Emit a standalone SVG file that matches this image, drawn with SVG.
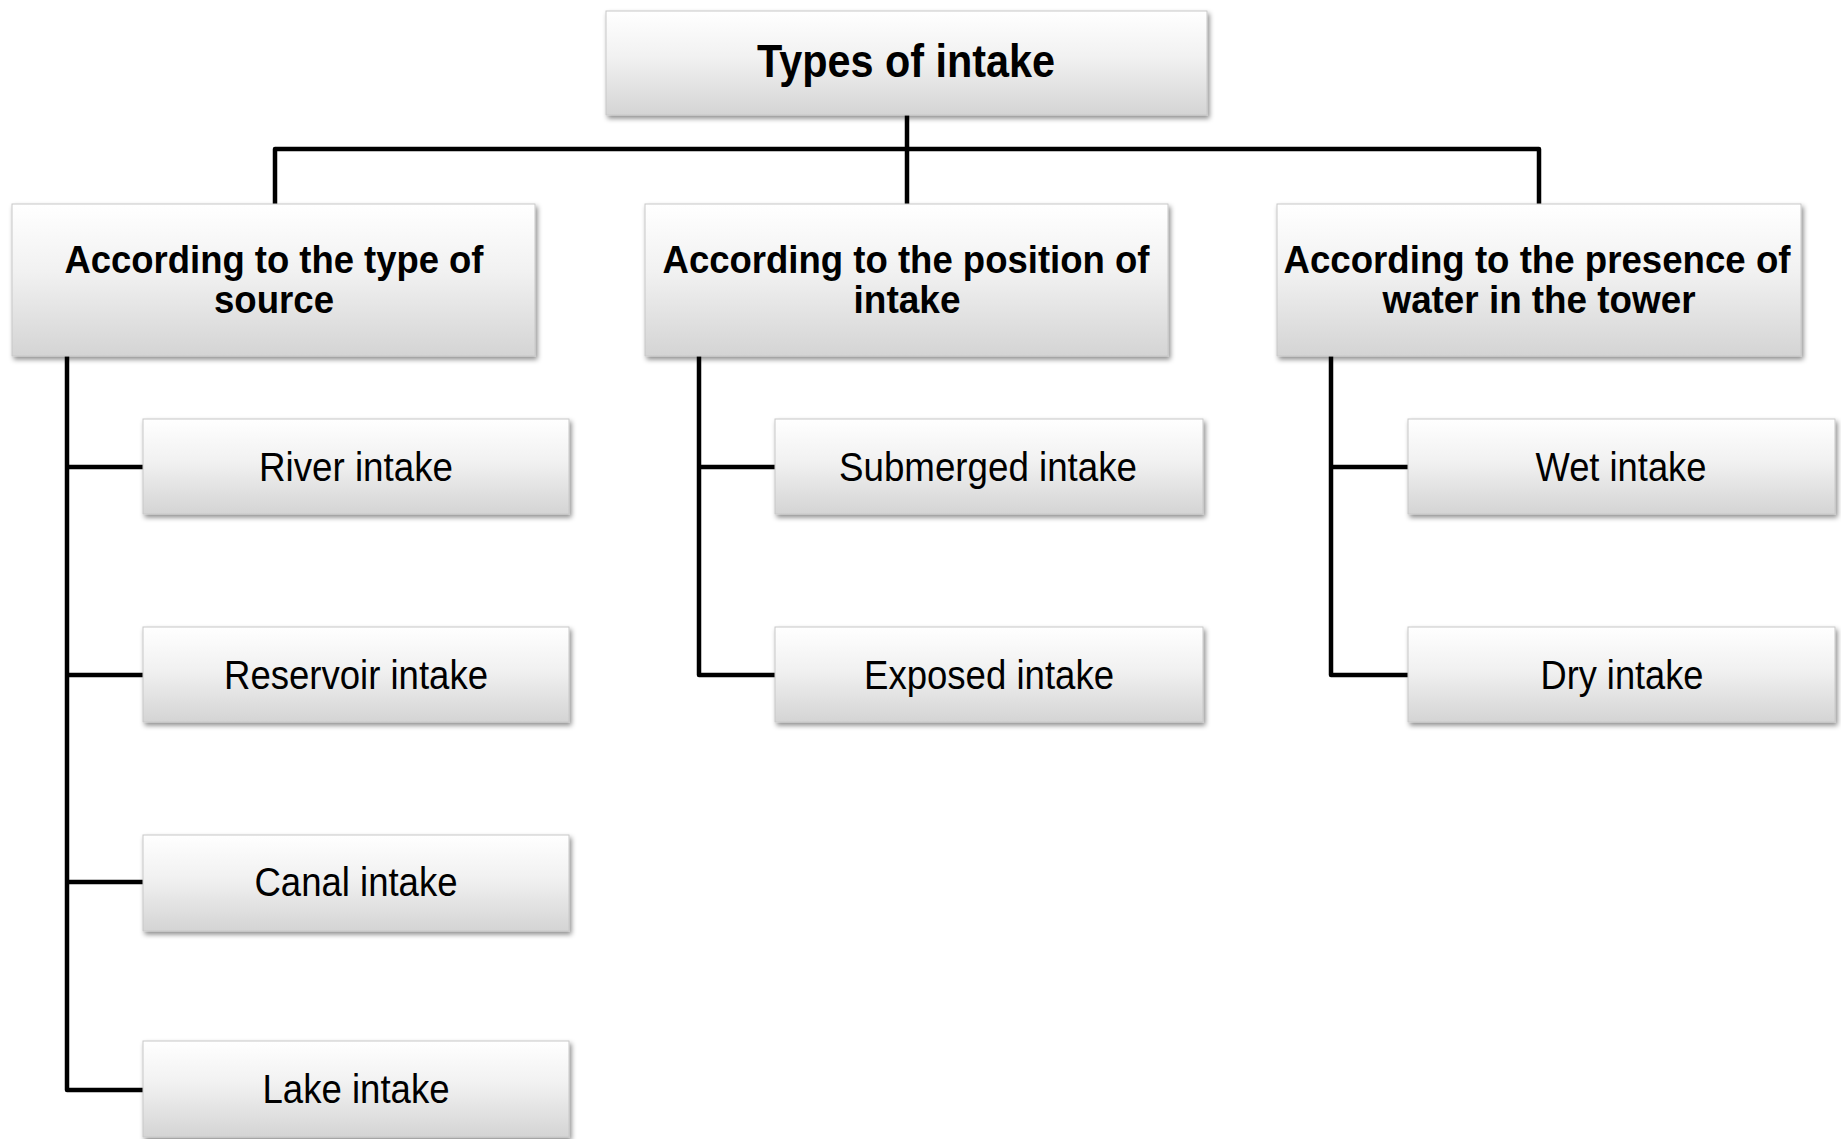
<svg xmlns="http://www.w3.org/2000/svg" width="1841" height="1139" viewBox="0 0 1841 1139">
<defs>
<linearGradient id="g" x1="0" y1="0" x2="0" y2="1">
<stop offset="0" stop-color="#ffffff"/>
<stop offset="0.45" stop-color="#f1f1f1"/>
<stop offset="1" stop-color="#d4d4d4"/>
</linearGradient>
<filter id="sh" x="-5%" y="-10%" width="112%" height="130%">
<feDropShadow dx="2" dy="3" stdDeviation="2.5" flood-color="#000" flood-opacity="0.45"/>
</filter>
</defs>
<style>
.box{fill:url(#g);stroke:#c8c8c8;stroke-width:1;filter:url(#sh)}
.h{font-family:"Liberation Sans",Arial,sans-serif;font-weight:bold;fill:#000;text-anchor:middle}
.t{font-family:"Liberation Sans",Arial,sans-serif;fill:#000;text-anchor:middle}
.c{fill:none;stroke:#000;stroke-width:4.5;stroke-linejoin:round}
</style>
<g id="connectors">
<path class="c" d="M907,115 V204 M275,204 V149 H1539 V204"/>
<path class="c" d="M67,356 V1090 H143 M67,467 H143 M67,675 H143 M67,882 H143"/>
<path class="c" d="M699,356 V675 H775 M699,467 H775"/>
<path class="c" d="M1331,356 V675 H1408 M1331,467 H1408"/>
</g>
<g id="n-root"><rect class="box" x="606" y="11" width="601" height="104"/><text class="h" x="906" y="77" font-size="46" textLength="298" lengthAdjust="spacingAndGlyphs">Types of intake</text></g>
<g id="n-source"><rect class="box" x="12" y="204" width="523" height="152"/><text class="h" x="274" y="273" font-size="38" textLength="419" lengthAdjust="spacingAndGlyphs">According to the type of</text><text class="h" x="274" y="313" font-size="38" textLength="120" lengthAdjust="spacingAndGlyphs">source</text></g>
<g id="n-position"><rect class="box" x="645" y="204" width="523" height="152"/><text class="h" x="906" y="273" font-size="38" textLength="487" lengthAdjust="spacingAndGlyphs">According to the position of</text><text class="h" x="907" y="313" font-size="38" textLength="107" lengthAdjust="spacingAndGlyphs">intake</text></g>
<g id="n-presence"><rect class="box" x="1277" y="204" width="524" height="152"/><text class="h" x="1537" y="273" font-size="38" textLength="507" lengthAdjust="spacingAndGlyphs">According to the presence of</text><text class="h" x="1539" y="313" font-size="38" textLength="313" lengthAdjust="spacingAndGlyphs">water in the tower</text></g>
<g id="n-river"><rect class="box" x="143" y="419" width="426" height="95"/><text class="t" x="356" y="481" font-size="40" textLength="194" lengthAdjust="spacingAndGlyphs">River intake</text></g>
<g id="n-reservoir"><rect class="box" x="143" y="627" width="426" height="95"/><text class="t" x="356" y="689" font-size="40" textLength="264" lengthAdjust="spacingAndGlyphs">Reservoir intake</text></g>
<g id="n-canal"><rect class="box" x="143" y="835" width="426" height="96"/><text class="t" x="356" y="896" font-size="40" textLength="203" lengthAdjust="spacingAndGlyphs">Canal intake</text></g>
<g id="n-lake"><rect class="box" x="143" y="1041" width="426" height="96"/><text class="t" x="356" y="1103" font-size="40" textLength="187" lengthAdjust="spacingAndGlyphs">Lake intake</text></g>
<g id="n-submerged"><rect class="box" x="775" y="419" width="428" height="95"/><text class="t" x="988" y="481" font-size="40" textLength="298" lengthAdjust="spacingAndGlyphs">Submerged intake</text></g>
<g id="n-exposed"><rect class="box" x="775" y="627" width="428" height="95"/><text class="t" x="989" y="689" font-size="40" textLength="250" lengthAdjust="spacingAndGlyphs">Exposed intake</text></g>
<g id="n-wet"><rect class="box" x="1408" y="419" width="427" height="95"/><text class="t" x="1621" y="481" font-size="40" textLength="171" lengthAdjust="spacingAndGlyphs">Wet intake</text></g>
<g id="n-dry"><rect class="box" x="1408" y="627" width="427" height="95"/><text class="t" x="1622" y="689" font-size="40" textLength="163" lengthAdjust="spacingAndGlyphs">Dry intake</text></g>
</svg>
